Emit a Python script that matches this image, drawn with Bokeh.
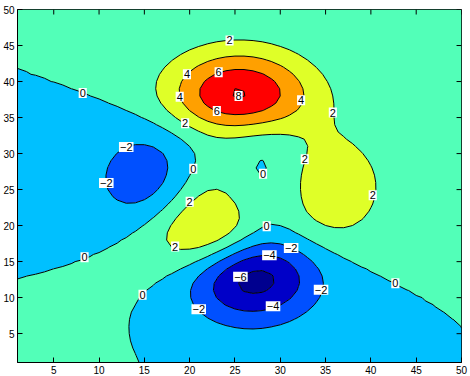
import numpy as np
from bokeh.plotting import figure
from bokeh.models import Range1d, ColumnDataSource, FixedTicker
from bokeh.core.properties import value
from bokeh.embed import file_html
from bokeh.resources import INLINE

# ---- data: MATLAB peaks(50) surface on index grid 1..50 ----
grid_n = 50
grid_min, grid_max = -3.0, 3.0
term_amp = [3.0, -10.0, -1.0 / 3.0]

fill_levels = [-10, -6, -4, -2, 0, 2, 4, 6, 8, 10]
fill_colors = ["#00008F", "#0000C8", "#0050FF", "#00C0FF", "#52FFB8",
               "#DFFF28", "#FFA000", "#FF0000", "#F00000"]
line_levels = [-6, -4, -2, 0, 2, 4, 6, 8]

label_x = [8.2, 24.4, 23.2, 19.7, 18.9, 25.4, 32.3, 23.0, 19.5, 35.8,
           13.0, 20.4, 28.1, 32.7, 10.8, 20.0, 40.2, 28.5, 18.4, 31.2,
           28.8, 8.4, 25.6, 34.5, 42.7, 14.8, 29.2, 21.0]
label_y = [38.4, 45.7, 41.3, 41.0, 37.9, 38.0, 37.4, 35.9, 34.2, 35.7,
           30.9, 27.9, 27.2, 29.2, 25.9, 23.3, 24.2, 19.9, 17.1, 16.9,
           15.9, 15.6, 12.9, 11.1, 12.0, 10.4, 8.8, 8.4]
label_text = ["0", "2", "6", "4", "4", "8", "4", "6", "2", "2",
              "\u22122", "0", "0", "2", "\u22122", "2", "2", "0", "2", "\u22122",
              "\u22124", "0", "\u22126", "\u22122", "0", "0", "\u22124", "\u22122"]

x_ticks = [5, 10, 15, 20, 25, 30, 35, 40, 45, 50]
y_ticks = [5, 10, 15, 20, 25, 30, 35, 40, 45, 50]
x_lo, x_hi = 1, 50
y_lo, y_hi = 1, 50

# ---- build grid ----
lin = np.linspace(grid_min, grid_max, grid_n)
X, Y = np.meshgrid(lin, lin)
Z = (term_amp[0] * (1 - X) ** 2 * np.exp(-X ** 2 - (Y + 1) ** 2)
     + term_amp[1] * (X / 5 - X ** 3 - Y ** 5) * np.exp(-X ** 2 - Y ** 2)
     + term_amp[2] * np.exp(-(X + 1) ** 2 - Y ** 2))
idx = np.arange(1, grid_n + 1, dtype=float)

FONT = "Liberation Sans"
W, H = 470, 376
BL, BR, BT, BB = 14, 9, 9, 14
TICK = 5

p = figure(width=W, height=H, output_backend="svg", toolbar_location=None,
           x_range=Range1d(x_lo, x_hi), y_range=Range1d(y_lo, y_hi),
           min_border_left=BL, min_border_right=BR, min_border_top=BT, min_border_bottom=BB)
p.background_fill_color = "white"
p.border_fill_color = "white"
p.outline_line_color = "black"
p.outline_line_width = 1
p.xgrid.visible = False
p.ygrid.visible = False

p.contour(idx, idx, Z, fill_levels, fill_color=fill_colors, line_color=None)
p.contour(idx, idx, Z, line_levels, fill_color=None, line_color="black", line_width=1)

# mirrored tick marks on top and right edges (box on)
ux = (x_hi - x_lo) / (W - BL - BR)
uy = (y_hi - y_lo) / (H - BT - BB)
p.segment(x0=x_ticks, y0=[y_hi] * len(x_ticks), x1=x_ticks,
          y1=[y_hi - TICK * uy] * len(x_ticks), line_color="black", line_width=1)
p.segment(x0=[x_hi] * len(y_ticks), y0=y_ticks, x1=[x_hi - TICK * ux] * len(y_ticks),
          y1=y_ticks, line_color="black", line_width=1)

src = ColumnDataSource(dict(x=label_x, y=label_y, t=label_text))
p.text(x="x", y="y", text="t", source=src, text_font=value(FONT),
       text_font_size=value("11px"), text_color="black", text_align="center",
       text_baseline="middle", background_fill_color="white", padding=1)

for ax, ticks in ((p.xaxis[0], x_ticks), (p.yaxis[0], y_ticks)):
    ax.ticker = FixedTicker(ticks=ticks)
    ax.major_tick_in = TICK
    ax.major_tick_out = 0
    ax.minor_tick_line_color = None
    ax.axis_line_color = "black"
    ax.major_tick_line_color = "black"
    ax.major_label_text_font = FONT
    ax.major_label_text_color = "black"
    ax.major_label_text_font_size = "10px"
    ax.major_label_standoff = 3

open("out.html", "w").write(file_html(p, INLINE))
